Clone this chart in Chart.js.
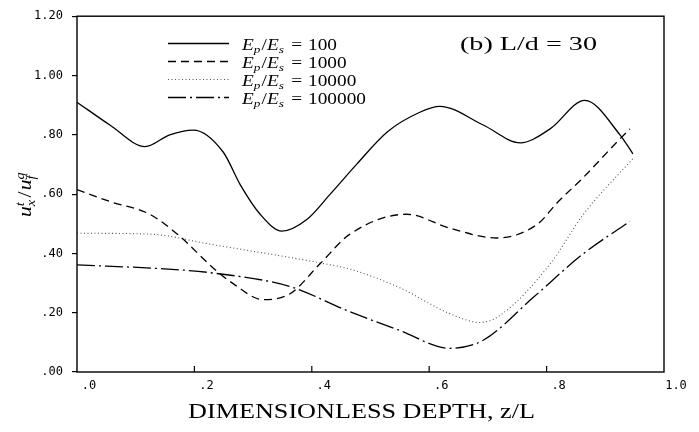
<!DOCTYPE html>
<html><head><meta charset="utf-8">
<script src="https://cdn.jsdelivr.net/npm/chart.js@4.4.1/dist/chart.umd.min.js"></script>
<style>html,body{margin:0;padding:0;background:#fff;}#wrap{width:699px;height:432px;}</style>
</head><body><div id="wrap"><canvas id="c" width="699" height="432"></canvas></div>
<script>
// ---- data ----
const xTickLabels = ['.0', '.2', '.4', '.6', '.8', '1.0'];
const yTickLabels = ['.00', '.20', '.40', '.60', '.80', '1.00', '1.20'];
const seriesValues = ['100', '1000', '10000', '100000'];

const depth100 = [0, 0.056, 0.116, 0.158, 0.198, 0.249, 0.278, 0.312, 0.349, 0.392, 0.431, 0.477, 0.528, 0.584, 0.618, 0.692, 0.755, 0.806, 0.865, 0.925, 0.947];
const ratio100 = [0.91, 0.833, 0.76, 0.80, 0.816, 0.742, 0.632, 0.532, 0.475, 0.515, 0.599, 0.702, 0.809, 0.876, 0.896, 0.833, 0.773, 0.82, 0.916, 0.80, 0.736];

const depth1000 = [0, 0.056, 0.124, 0.175, 0.232, 0.266, 0.317, 0.363, 0.414, 0.465, 0.562, 0.635, 0.715, 0.784, 0.82, 0.862, 0.92, 0.942];
const ratio1000 = [0.615, 0.575, 0.532, 0.458, 0.351, 0.298, 0.244, 0.264, 0.365, 0.465, 0.532, 0.485, 0.452, 0.498, 0.575, 0.655, 0.776, 0.82];

const depth10000 = [0, 0.124, 0.227, 0.414, 0.465, 0.55, 0.635, 0.687, 0.72, 0.806, 0.862, 0.947];
const ratio10000 = [0.468, 0.465, 0.431, 0.368, 0.347, 0.284, 0.197, 0.167, 0.19, 0.364, 0.53, 0.72];

const depth100000 = [0, 0.147, 0.227, 0.363, 0.46, 0.55, 0.635, 0.692, 0.777, 0.862, 0.942];
const ratio100000 = [0.361, 0.348, 0.335, 0.288, 0.207, 0.14, 0.08, 0.107, 0.251, 0.398, 0.508];

// ---- helpers ----
const pts = (xs, ys) => xs.map((x, i) => ({ x, y: ys[i] }));
const FAM = '"Liberation Serif", "DejaVu Serif", serif';

function measureParts(ctx, parts, size) {
  const small = Math.round(size * 0.68);
  return parts.map(p => {
    if (p.sub !== undefined || p.sup !== undefined) {
      ctx.font = `italic ${small}px ${FAM}`;
      const w = Math.max(p.sub ? ctx.measureText(p.sub).width : 0, p.sup ? ctx.measureText(p.sup).width : 0) + 1;
      return { p, w };
    }
    ctx.font = `${p.it ? 'italic ' : ''}${size}px ${FAM}`;
    return { p, w: ctx.measureText(p.t).width + (p.gl || 0) + (p.gr || 0) };
  });
}
function drawRich(ctx, parts, size, x, y, opts) {
  const items = measureParts(ctx, parts, size);
  const total = items.reduce((a, b) => a + b.w, 0);
  const sx = opts.sx || (opts.w ? opts.w / total : 1);
  const small = Math.round(size * 0.68);
  ctx.save();
  ctx.translate(x, y);
  ctx.scale(sx, 1);
  ctx.fillStyle = '#000';
  ctx.textAlign = 'left';
  ctx.textBaseline = 'alphabetic';
  let cx = opts.center ? -total / 2 : 0;
  for (const it of items) {
    const p = it.p;
    if (p.sub !== undefined || p.sup !== undefined) {
      ctx.font = `italic ${small}px ${FAM}`;
      if (p.sub) ctx.fillText(p.sub, cx, size * 0.22);
      if (p.sup) ctx.fillText(p.sup, cx, -size * 0.40);
    } else {
      ctx.font = `${p.it ? 'italic ' : ''}${size}px ${FAM}`;
      ctx.fillText(p.t, cx + (p.gl || 0), 0);
    }
    cx += it.w;
  }
  ctx.restore();
  return sx;
}

const styles = [
  { dash: [], color: '#000', width: 1.3 },
  { dash: [8, 5], color: '#000', width: 1.3 },
  { dash: [1, 2.5], color: '#555', width: 1.1 },
  { dash: [18, 4, 2, 4], color: '#000', width: 1.3 }
];
const seriesData = [pts(depth100, ratio100), pts(depth1000, ratio1000), pts(depth10000, ratio10000), pts(depth100000, ratio100000)];

const decor = {
  id: 'decor',
  afterDraw(chart) {
    const ctx = chart.ctx;
    const a = chart.chartArea;
    const xs = chart.scales.x;
    ctx.save();
    // frame
    ctx.strokeStyle = '#000';
    ctx.lineWidth = 1.4;
    ctx.setLineDash([]);
    ctx.strokeRect(a.left, a.top, a.right - a.left, a.bottom - a.top);
    // inward x tick marks
    ctx.lineWidth = 1.2;
    xs.ticks.forEach(t => {
      if (t.value <= 0.001 || t.value >= 0.999) return;
      const px = xs.getPixelForValue(t.value);
      ctx.beginPath(); ctx.moveTo(px, a.bottom); ctx.lineTo(px, a.bottom - 6); ctx.stroke();
    });
    // legend
    let sx = null;
    seriesValues.forEach((v, i) => {
      const ly = 43.5 + i * 18;
      const st = styles[i];
      ctx.save();
      ctx.strokeStyle = st.color; ctx.lineWidth = st.width; ctx.setLineDash(st.dash);
      ctx.beginPath(); ctx.moveTo(168, ly); ctx.lineTo(229, ly); ctx.stroke();
      ctx.restore();
      const parts = [{ t: 'E', it: true }, { sub: 'p' }, { t: '/' }, { t: 'E', it: true }, { sub: 's' }, { t: '=', gl: 5, gr: 5 }, { t: v }];
      const r = drawRich(ctx, parts, 16, 242, ly + 6, sx ? { sx } : { w: 95 });
      if (!sx) sx = r;
    });
    // panel label
    drawRich(ctx, [{ t: '(b) L/d = 30' }], 19, 460, 50, { w: 137 });
    // x title
    drawRich(ctx, [{ t: 'DIMENSIONLESS DEPTH, z/L' }], 22, 188, 418, { w: 347 });
    // y title (rotated)
    ctx.save();
    ctx.translate(31, 194);
    ctx.rotate(-Math.PI / 2);
    drawRich(ctx, [{ t: 'u', it: true }, { sub: 'x', sup: 't' }, { t: '/', gl: 1, gr: 1 }, { t: 'u', it: true }, { sub: 'f', sup: 'g' }], 18, 0, 0, { w: 46, center: true });
    ctx.restore();
    ctx.restore();
  }
};

new Chart(document.getElementById('c'), {
  type: 'line',
  data: {
    datasets: seriesData.map((d, i) => ({
      label: 'Ep/Es = ' + seriesValues[i],
      data: d,
      borderColor: styles[i].color,
      borderWidth: styles[i].width,
      borderDash: styles[i].dash,
      pointRadius: 0,
      fill: false,
      cubicInterpolationMode: 'monotone'
    }))
  },
  options: {
    responsive: false,
    animation: false,
    devicePixelRatio: 1,
    layout: { padding: { top: 13, right: 35, bottom: 0, left: 0 } },
    plugins: { legend: { display: false }, tooltip: { enabled: false } },
    scales: {
      x: {
        type: 'linear', min: 0, max: 1,
        ticks: {
          stepSize: 0.2, autoSkip: false, maxRotation: 0, labelOffset: 12, padding: 7,
          color: '#000', font: { family: '"DejaVu Sans Mono", monospace', size: 12 },
          callback: (v, i) => xTickLabels[i]
        },
        grid: { display: false, drawTicks: false },
        border: { display: false },
        afterFit: s => { s.height = 60; }
      },
      y: {
        type: 'linear', min: 0, max: 1.2,
        ticks: {
          stepSize: 0.2, autoSkip: false, padding: 9,
          color: '#000', font: { family: '"DejaVu Sans Mono", monospace', size: 12 },
          callback: (v, i) => yTickLabels[i]
        },
        grid: { display: true, drawOnChartArea: false, drawTicks: true, tickLength: 5, color: '#000', lineWidth: 1.2 },
        border: { display: false },
        afterFit: s => { s.width = 77; }
      }
    }
  },
  plugins: [decor]
});
</script></body></html>
